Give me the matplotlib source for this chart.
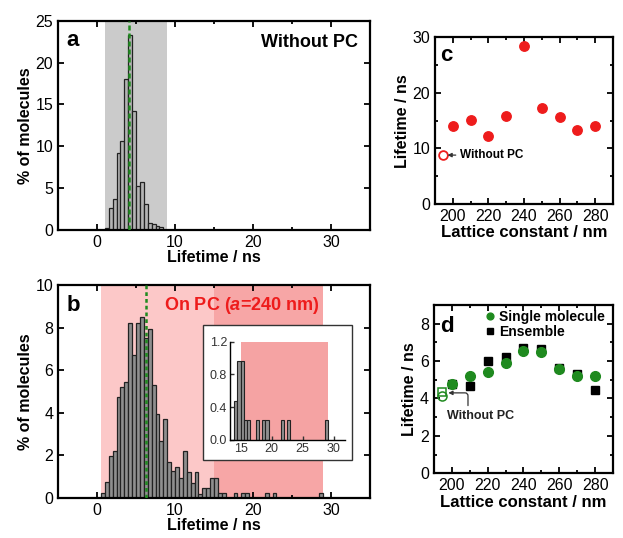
import matplotlib
matplotlib.use("Agg")
import matplotlib.pyplot as plt
import matplotlib.patches as patches
from matplotlib.ticker import MultipleLocator
import numpy as np

plt.rcParams["font.family"] = ["Liberation Sans", "DejaVu Sans"]
plt.rcParams["mathtext.fontset"] = "custom"
plt.rcParams["mathtext.it"] = "Liberation Sans:italic:bold"
plt.rcParams["mathtext.rm"] = "Liberation Sans:bold"

# --- histogram without PC (0.5 ns bins, left edges) ---
a_bin_left = [1.0, 1.5, 2.0, 2.5, 3.0, 3.5, 4.0, 4.5, 5.0, 5.5, 6.0, 6.5, 7.0, 7.5, 8.0]
a_percent = [0.2, 2.6, 3.7, 9.2, 10.6, 18.0, 23.3, 14.2, 5.2, 5.7, 3.1, 0.8, 0.7, 0.5, 0.4]
a_mean = 4.1

# --- histogram on PC, a = 240 nm ---
b_bin_left = [0.5, 1.0, 1.5, 2.0, 2.5, 3.0, 3.5, 4.0, 4.5, 5.0, 5.5, 6.0, 6.5, 7.0,
              7.5, 8.0, 8.5, 9.0, 9.5, 10.0, 10.5, 11.0, 11.5, 12.0, 12.5, 13.0,
              13.5, 14.0, 14.5, 15.0, 15.5, 16.0, 17.5, 18.5, 19.0, 21.5, 22.5, 28.5]
b_percent = [0.24, 0.74, 1.97, 2.21, 4.74, 5.21, 5.45, 8.21, 6.71, 8.21, 8.48, 7.5,
             7.95, 5.29, 3.95, 2.7, 3.7, 1.7, 1.25, 1.45, 0.95, 2.2, 1.2, 0.7, 1.2,
             0.2, 0.45, 0.48, 0.96, 0.96, 0.24, 0.24, 0.24, 0.24, 0.24, 0.24, 0.24, 0.24]
b_mean = 6.3

# --- lifetime vs lattice constant ---
lattice = [200, 210, 220, 230, 240, 250, 260, 270, 280]
lifetime_pc = [14.0, 15.2, 12.2, 15.8, 28.4, 17.3, 15.7, 13.3, 14.1]
lifetime_no_pc = 8.8

single_molecule = [4.78, 5.19, 5.40, 5.90, 6.53, 6.48, 5.58, 5.19, 5.19]
ensemble = [4.80, 4.65, 5.99, 6.23, 6.71, 6.65, 5.63, 5.33, 4.47]
single_no_pc = 4.11
ensemble_no_pc = 4.33
no_pc_x = 194.5

BIN_W = 0.5
RED = "#ee1c1c"
GREEN = "#1f8a1f"


def style_axes(ax, major_x, minor_x, major_y, minor_y):
    ax.xaxis.set_major_locator(MultipleLocator(major_x))
    ax.xaxis.set_minor_locator(MultipleLocator(minor_x))
    ax.yaxis.set_major_locator(MultipleLocator(major_y))
    ax.yaxis.set_minor_locator(MultipleLocator(minor_y))
    ax.tick_params(which="both", direction="in", top=True, right=True,
                   labelsize=11.5, width=1.3)
    ax.tick_params(which="major", length=4)
    ax.tick_params(which="minor", length=2.5)
    for s in ax.spines.values():
        s.set_linewidth(1.6)


fig = plt.figure(figsize=(6.23, 5.38), dpi=100)

# ---------------- panel a ----------------
ax_a = fig.add_axes([0.0931, 0.5725, 0.5008, 0.389])
ax_a.axvspan(1.0, 9.0, color="#cbcbcb", lw=0, zorder=0)
ax_a.bar(a_bin_left, a_percent, width=BIN_W, align="edge",
         facecolor="#b4b4b4", edgecolor="#222222", linewidth=0.9, zorder=2)
ax_a.axvline(a_mean, color=GREEN, ls=(0, (2, 1.2)), lw=1.8, zorder=3)
ax_a.set_xlim(-5, 35)
ax_a.set_ylim(0, 25)
style_axes(ax_a, 10, 5, 5, 5)
ax_a.set_xlabel("Lifetime / ns", fontsize=11.5, fontweight="bold", labelpad=0)
ax_a.set_ylabel("% of molecules", fontsize=11.5, fontweight="bold", labelpad=2)
ax_a.text(-3.9, 22.6, "a", fontsize=16, fontweight="bold", va="center")
ax_a.text(33.5, 22.4, "Without PC", fontsize=13, fontweight="bold",
          ha="right", va="center")

# ---------------- panel b ----------------
ax_b = fig.add_axes([0.0931, 0.0743, 0.5008, 0.396])
ax_b.axvspan(0.5, 15.0, color="#fcc8c8", lw=0, zorder=0)
ax_b.axvspan(15.0, 29.0, color="#f7a6a6", lw=0, zorder=0)
ax_b.bar(b_bin_left, b_percent, width=BIN_W, align="edge",
         facecolor="#8f8f8f", edgecolor="#222222", linewidth=0.9, zorder=2)
ax_b.axvline(b_mean, color=GREEN, ls=(0, (1.5, 1.2)), lw=1.8, zorder=3)
ax_b.set_xlim(-5, 35)
ax_b.set_ylim(0, 10)
style_axes(ax_b, 10, 5, 2, 2)
ax_b.set_xlabel("Lifetime / ns", fontsize=11.5, fontweight="bold", labelpad=0)
ax_b.set_ylabel("% of molecules", fontsize=11.5, fontweight="bold", labelpad=2)
ax_b.text(-3.9, 9.05, "b", fontsize=16, fontweight="bold", va="center")
ax_b.text(8.6, 9.05, "On PC ($a$=240 nm)", fontsize=13, fontweight="bold",
          color=RED, va="center")

# white framed box holding the tail inset
box = patches.Rectangle((0.3258, 0.145), 0.2392, 0.2509, transform=fig.transFigure,
                        facecolor="white", edgecolor="#333333", linewidth=1.0,
                        zorder=5, clip_on=False)
ax_b.add_patch(box)

ax_in = fig.add_axes([0.3692, 0.1822, 0.1846, 0.1827])
ax_in.patch.set_alpha(0)
tail_left = [x for x in b_bin_left if x >= 14.0]
tail_val = [v for x, v in zip(b_bin_left, b_percent) if x >= 14.0]
ax_in.axvspan(15.0, 29.0, color="#f5a3a3", lw=0, zorder=0)
ax_in.bar(tail_left, tail_val, width=BIN_W, align="edge",
          facecolor="#8f8f8f", edgecolor="#222222", linewidth=0.8, zorder=2)
ax_in.set_xlim(13.3, 31.8)
ax_in.set_ylim(0, 1.2)
ax_in.xaxis.set_major_locator(MultipleLocator(5))
ax_in.yaxis.set_major_locator(MultipleLocator(0.4))
ax_in.yaxis.set_major_formatter(plt.FormatStrFormatter("%.1f"))
ax_in.tick_params(direction="in", labelsize=9, length=3, width=1, pad=2,
                  colors="#333333")
ax_in.spines["top"].set_visible(False)
ax_in.spines["right"].set_visible(False)
for s in ("left", "bottom"):
    ax_in.spines[s].set_linewidth(1.0)

# ---------------- panel c ----------------
ax_c = fig.add_axes([0.6982, 0.6208, 0.2857, 0.3099])
ax_c.plot(lattice, lifetime_pc, "o", color=RED, markersize=6.8, mec=RED, ls="none")
ax_c.plot([no_pc_x], [lifetime_no_pc], "o", mfc="white", mec=RED, mew=1.3,
          markersize=6.3, ls="none")
ax_c.annotate("Without PC", xy=(no_pc_x + 2.5, lifetime_no_pc),
              xytext=(204, lifetime_no_pc), fontsize=8.5, fontweight="bold",
              va="center", ha="left",
              arrowprops=dict(arrowstyle="-|>", color="#333333", lw=0.9,
                              mutation_scale=6, shrinkA=1, shrinkB=0))
ax_c.set_xlim(190, 290)
ax_c.set_ylim(0, 30)
style_axes(ax_c, 20, 10, 10, 5)
ax_c.set_xlabel("Lattice constant / nm", fontsize=12, fontweight="bold", labelpad=1)
ax_c.set_ylabel("Lifetime / ns", fontsize=11.5, fontweight="bold", labelpad=2)
ax_c.text(193, 26.8, "c", fontsize=16, fontweight="bold", va="center")

# ---------------- panel d ----------------
ax_d = fig.add_axes([0.6966, 0.1203, 0.2873, 0.3128])
ax_d.plot(lattice, ensemble, "s", color="black", markersize=6, ls="none",
          label="Ensemble", zorder=2)
ax_d.plot(lattice, single_molecule, "o", color=GREEN, markersize=7, ls="none",
          label="Single molecule", zorder=3)
ax_d.plot([no_pc_x], [ensemble_no_pc], "s", mfc="none", mec=GREEN, mew=1.1,
          markersize=5.5, ls="none")
ax_d.plot([no_pc_x], [single_no_pc], "o", mfc="none", mec=GREEN, mew=1.1,
          markersize=6.5, ls="none")
ax_d.annotate("", xy=(no_pc_x + 3.5, 4.3), xytext=(209, 3.62),
              arrowprops=dict(arrowstyle="-|>", color="#333333", lw=0.9,
                              mutation_scale=6, shrinkA=0, shrinkB=0,
                              connectionstyle="angle,angleA=90,angleB=0,rad=3"))
ax_d.text(197, 3.05, "Without PC", fontsize=9, fontweight="bold",
          ha="left", va="center", color="#222222")
handles, labels = ax_d.get_legend_handles_labels()
ax_d.legend(handles[::-1], labels[::-1], loc="upper right",
            bbox_to_anchor=(1.0, 1.02), frameon=False,
            prop=dict(weight="bold", size=10), handletextpad=0.1,
            handlelength=1.0, labelspacing=0.05, markerscale=0.7,
            borderaxespad=0.2)
ax_d.set_xlim(190, 290)
ax_d.set_ylim(0, 9)
style_axes(ax_d, 20, 10, 2, 1)
ax_d.set_xlabel("Lattice constant / nm", fontsize=12, fontweight="bold", labelpad=1)
ax_d.set_ylabel("Lifetime / ns", fontsize=11.5, fontweight="bold", labelpad=2)
ax_d.text(193.5, 7.85, "d", fontsize=16, fontweight="bold", va="center")

fig.savefig("out.png", dpi=100, facecolor="white")
